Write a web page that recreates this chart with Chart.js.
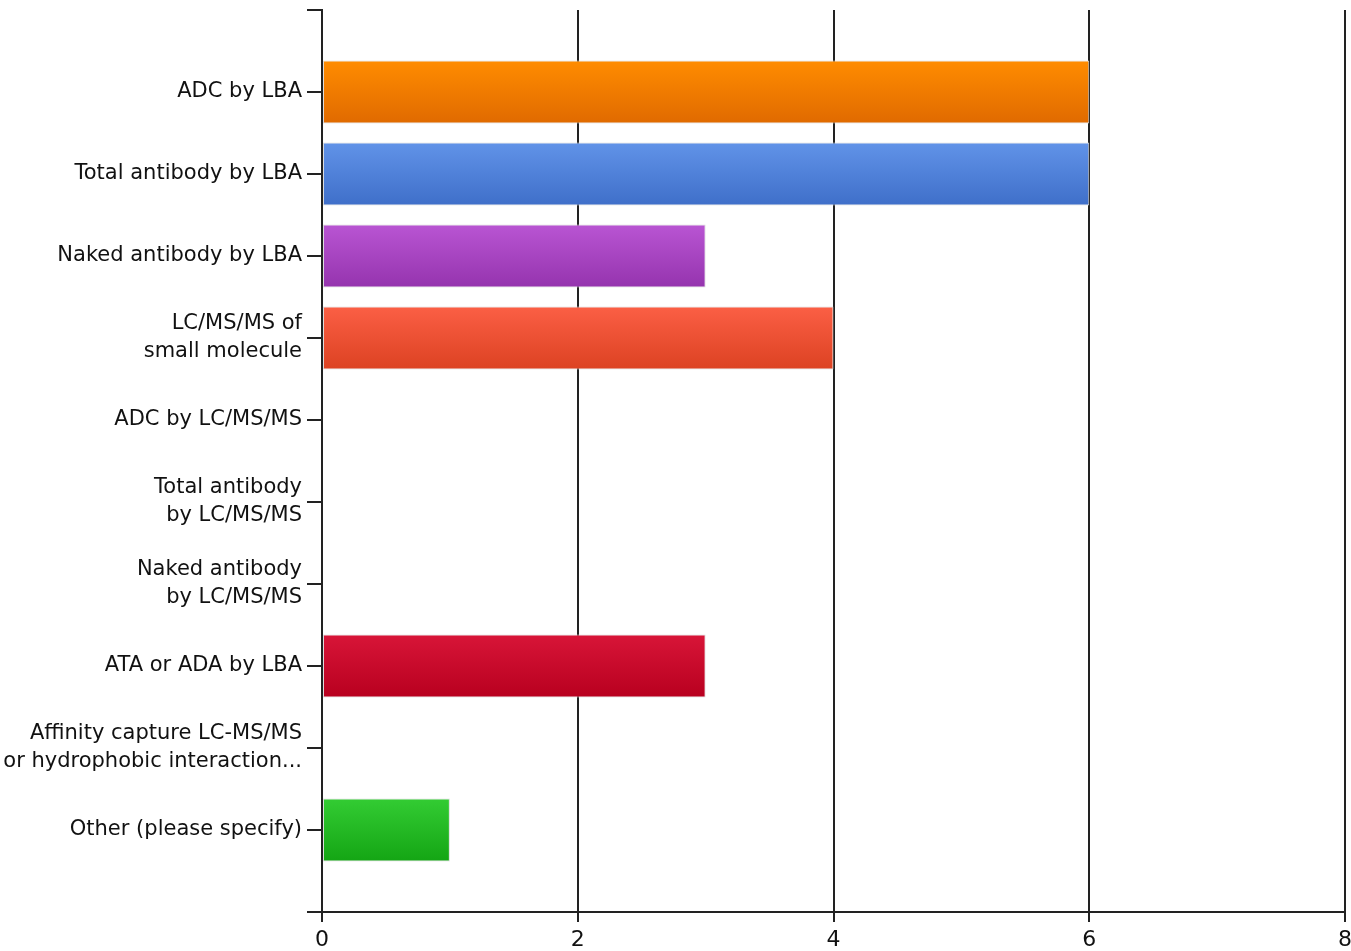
<!DOCTYPE html>
<html>
<head>
<meta charset="utf-8">
<script src="https://cdn.jsdelivr.net/npm/chart.js@4"></script>
<style>
  html, body { margin: 0; padding: 0; background: #fff; }
  #wrap { width: 1351px; height: 951px; }
</style>
</head>
<body>
<div id="wrap"><canvas id="myChart" width="1351" height="951"></canvas></div>
<script>
const categories = [
    "ADC by LBA",
    "Total antibody by LBA",
    "Naked antibody by LBA",
    ["LC/MS/MS of", "small molecule"],
    "ADC by LC/MS/MS",
    ["Total antibody", "by LC/MS/MS"],
    ["Naked antibody", "by LC/MS/MS"],
    "ATA or ADA by LBA",
    ["Affinity capture LC-MS/MS", "or hydrophobic interaction..."],
    "Other (please specify)"
];
const values = [6, 6, 3, 4, 0, 0, 0, 3, 0, 1];
const topColors = ["#ff8c00", "#6193e8", "#b955d3", "#fb5f45", "#ff8c00", "#6193e8", "#b955d3", "#d81538", "#fb5f45", "#33cc33"];
const bottomColors = ["#e06a00", "#3f6fc9", "#9534ae", "#dc4222", "#e06a00", "#3f6fc9", "#9534ae", "#b8001f", "#dc4222", "#14a514"];
const xTicks = [0, 2, 4, 6, 8];

const barFrac = 63 / 82;

function barGradient(context) {
    const chart = context.chart;
    const i = context.dataIndex;
    const y = chart.scales && chart.scales.y;
    if (!chart.chartArea || !y || i === undefined) return topColors[i] || "#888";
    const c = y.getPixelForValue(i);
    const half = Math.abs(y.getPixelForValue(1) - y.getPixelForValue(0)) * barFrac / 2;
    const g = chart.ctx.createLinearGradient(0, c - half, 0, c + half);
    g.addColorStop(0, topColors[i]);
    g.addColorStop(1, bottomColors[i]);
    return g;
}

const ctx = document.getElementById("myChart");
myChart = new Chart(ctx, {
    type: 'bar',
    data: {
        datasets: [
            {
                label: 'responses',
                data: values.map((v, i) => ({ x: v, y: i })),
                backgroundColor: barGradient,
                borderColor: '#dcdcdc',
                borderWidth: 1,
                borderSkipped: false,
                categoryPercentage: 1,
                barPercentage: barFrac
            }
        ]
    },
    options: {
        indexAxis: 'y',
        responsive: false,
        animation: false,
        layout: {
            padding: { left: 0, right: 6, top: 10, bottom: 0 }
        },
        plugins: {
            legend: { display: false },
            tooltip: { enabled: false }
        },
        scales: {
            x: {
                type: 'linear',
                min: 0,
                max: 8,
                afterBuildTicks: s => { s.ticks = xTicks.map(v => ({ value: v })); },
                afterFit: s => { s.height = 39; s.paddingRight = 0; s.paddingLeft = 0; },
                grid: {
                    color: '#222',
                    lineWidth: 2,
                    tickLength: 10,
                    drawOnChartArea: true
                },
                border: { display: true, color: '#222', width: 2 },
                ticks: {
                    color: '#111',
                    padding: 5,
                    maxRotation: 0,
                    font: { family: 'DejaVu Sans', size: 22 }
                }
            },
            y: {
                type: 'linear',
                reverse: true,
                offset: false,
                min: -1,
                max: 10,
                afterBuildTicks: s => {
                    const t = [{ value: -1 }];
                    categories.forEach((c, i) => t.push({ value: i }));
                    t.push({ value: 10 });
                    s.ticks = t;
                },
                afterFit: s => { s.width = 322; s.paddingTop = 0; s.paddingBottom = 0; },
                grid: {
                    offset: false,
                    color: '#222',
                    lineWidth: 2,
                    tickLength: 15,
                    drawOnChartArea: false
                },
                border: { display: true, color: '#222', width: 2 },
                ticks: {
                    color: '#111',
                    padding: 5,
                    autoSkip: false,
                    font: { family: 'DejaVu Sans', size: 21, lineHeight: 1.33 },
                    callback: v => (v >= 0 && v < categories.length) ? categories[v] : ''
                }
            }
        }
    }
});
</script>
</body>
</html>
